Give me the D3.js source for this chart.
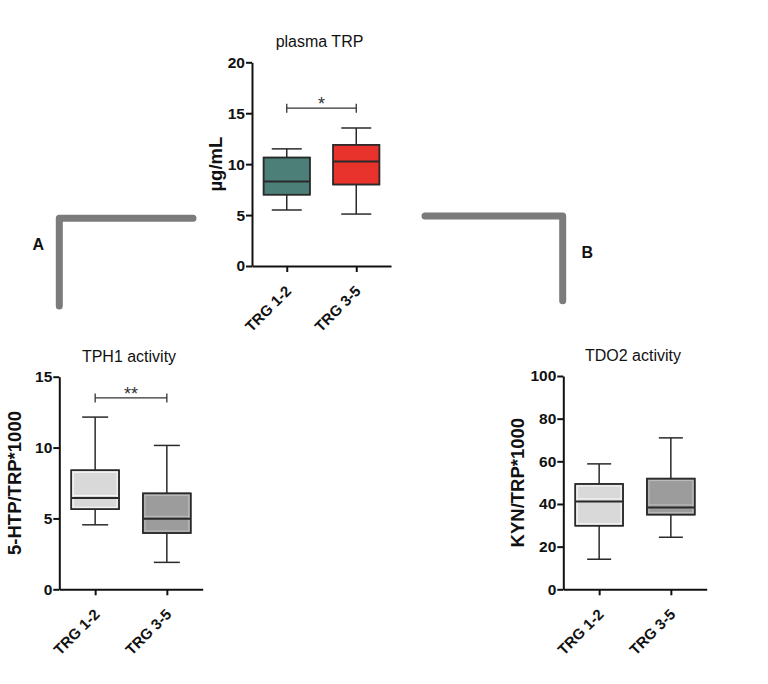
<!DOCTYPE html>
<html>
<head>
<meta charset="utf-8">
<script src="https://cdn.jsdelivr.net/npm/d3@7"></script>
<style>
  body { margin: 0; background: #fff; }
  svg { font-family: "Liberation Sans", Arial, sans-serif; }
</style>
</head>
<body>
<script>
// groups on every x axis
var groups = ["TRG 1-2", "TRG 3-5"];

// box values: [min, q1, median, q3, max]
var trpBoxes = [[5.5, 7.0, 8.3, 10.65, 11.5], [5.1, 8.0, 10.25, 11.9, 13.55]];
var tphBoxes = [[4.55, 5.65, 6.45, 8.4, 12.15], [1.9, 3.97, 4.97, 6.77, 10.15]];
var tdoBoxes = [[14.1, 29.8, 41.2, 49.4, 58.8], [24.4, 35.0, 38.4, 51.9, 71.0]];

var trpTicks = [0, 5, 10, 15, 20];
var tphTicks = [0, 5, 10, 15];
var tdoTicks = [0, 20, 40, 60, 80, 100];

var trpColors = ["#4d7f79", "#e8322c"];
var greyColors = ["#d9d9d9", "#9c9c9c"];

// significance bars: [value, label]
var trpSig = [15.5, "*"];
var tphSig = [13.5, "**"];

var panels = [
  { title: "plasma TRP", ylabel: "\u00b5g/mL", boxes: trpBoxes, ticks: trpTicks, colors: trpColors, sig: trpSig,
    x0: 252, x1: 391, yTop: 62.3, yBot: 266, ylabX: 215, capW: 30, inner: false },
  { title: "TPH1 activity", ylabel: "5-HTP/TRP*1000", boxes: tphBoxes, ticks: tphTicks, colors: greyColors, sig: tphSig,
    x0: 59.3, x1: 202.7, yTop: 376.7, yBot: 589.3, ylabX: 14, capW: 26, inner: true },
  { title: "TDO2 activity", ylabel: "KYN/TRP*1000", boxes: tdoBoxes, ticks: tdoTicks, colors: greyColors, sig: null,
    x0: 563.3, x1: 706.7, yTop: 376, yBot: 589.3, ylabX: 517.5, capW: 24, inner: true }
];

var font = "'Liberation Sans', Arial, sans-serif";

var svg = d3.select("body").append("svg")
    .attr("width", 768)
    .attr("height", 684);

panels.forEach(function(p) {
  var y = d3.scaleLinear()
      .domain([0, d3.max(p.ticks)])
      .range([p.yBot, p.yTop]);
  var x = d3.scalePoint()
      .domain(groups)
      .range([p.x0, p.x1])
      .padding(0.5);
  var bw = (p.x1 - p.x0) / 3;

  var g = svg.append("g");

  // boxes
  p.boxes.forEach(function(b, i) {
    var cx = x(groups[i]);
    var bg = g.append("g").attr("stroke", "#2a2a2a").attr("stroke-width", 1.5);
    bg.append("line")
      .attr("x1", cx).attr("x2", cx)
      .attr("y1", y(b[0])).attr("y2", y(b[4]));
    bg.append("line")
      .attr("x1", cx - p.capW / 2).attr("x2", cx + p.capW / 2)
      .attr("y1", y(b[4])).attr("y2", y(b[4]));
    bg.append("line")
      .attr("x1", cx - p.capW / 2).attr("x2", cx + p.capW / 2)
      .attr("y1", y(b[0])).attr("y2", y(b[0]));
    bg.append("rect")
      .attr("x", cx - bw / 2).attr("width", bw)
      .attr("y", y(b[3])).attr("height", y(b[1]) - y(b[3]))
      .attr("fill", p.colors[i]);
    if (p.inner) {
      var op = i == 0 ? 0.85 : 0.35;
      bg.append("rect")
        .attr("x", cx - bw / 2 + 2).attr("width", bw - 4)
        .attr("y", y(b[3]) + 2).attr("height", y(b[1]) - y(b[3]) - 4)
        .attr("fill", "none")
        .attr("stroke", "#fff").attr("stroke-opacity", op).attr("stroke-width", 1);
      bg.append("line")
        .attr("x1", cx - bw / 2 + 2).attr("x2", cx + bw / 2 - 2)
        .attr("y1", y(b[2]) - 2.5).attr("y2", y(b[2]) - 2.5)
        .attr("stroke", "#fff").attr("stroke-opacity", op).attr("stroke-width", 1);
    }
    bg.append("rect")
      .attr("x", cx - bw / 2).attr("width", bw)
      .attr("y", y(b[3])).attr("height", y(b[1]) - y(b[3]))
      .attr("fill", "none");
    bg.append("line")
      .attr("x1", cx - bw / 2).attr("x2", cx + bw / 2)
      .attr("y1", y(b[2])).attr("y2", y(b[2]))
      .attr("stroke-width", 2);
  });

  // significance bar
  if (p.sig) {
    var sy = y(p.sig[0]);
    var xa = x(groups[0]), xb = x(groups[1]);
    var sg = g.append("g").attr("stroke", "#333").attr("stroke-width", 1.3);
    sg.append("line").attr("x1", xa).attr("x2", xb).attr("y1", sy).attr("y2", sy);
    sg.append("line").attr("x1", xa).attr("x2", xa).attr("y1", sy - 4.5).attr("y2", sy + 4.5);
    sg.append("line").attr("x1", xb).attr("x2", xb).attr("y1", sy - 4.5).attr("y2", sy + 4.5);
    g.append("text")
      .attr("x", (xa + xb) / 2).attr("y", sy + 2)
      .attr("text-anchor", "middle")
      .style("font-family", font)
      .style("font-size", "18px").style("fill", "#333")
      .text(p.sig[1]);
  }

  // y axis
  var ya = g.append("g")
      .attr("transform", "translate(" + p.x0 + ",0)")
      .call(d3.axisLeft(y).tickValues(p.ticks).tickSize(6).tickSizeOuter(0).tickPadding(1));
  ya.select(".domain").attr("stroke-width", 2).attr("stroke", "#111");
  ya.selectAll(".tick line").attr("stroke-width", 2).attr("stroke", "#111");
  ya.selectAll(".tick text")
      .style("font-family", font).style("font-size", "15.5px")
      .style("font-weight", "bold").style("fill", "#111");

  // x axis
  var xa2 = g.append("g")
      .attr("transform", "translate(0," + p.yBot + ")")
      .call(d3.axisBottom(x).tickSize(6).tickSizeOuter(0));
  xa2.select(".domain").attr("stroke-width", 2).attr("stroke", "#111");
  xa2.selectAll(".tick line").attr("stroke-width", 2).attr("stroke", "#111");
  xa2.selectAll(".tick text")
      .attr("text-anchor", "end")
      .attr("x", null).attr("y", null).attr("dy", null)
      .attr("transform", "translate(5,26) rotate(-45)")
      .style("font-family", font).style("font-size", "15px")
      .style("font-weight", "bold").style("fill", "#111");

  // title
  g.append("text")
    .attr("x", (p.x0 + p.x1) / 2 - 2).attr("y", p.yTop - 15)
    .attr("text-anchor", "middle")
    .style("font-family", font)
    .style("font-size", "16px").style("fill", "#111")
    .text(p.title);

  // y label
  g.append("text")
    .attr("transform", "translate(" + (p.ylabX + 6.5) + "," + ((p.yTop + p.yBot) / 2) + ") rotate(-90)")
    .attr("text-anchor", "middle")
    .style("font-family", font)
    .style("font-size", "18.5px").style("font-weight", "bold").style("fill", "#111")
    .text(p.ylabel);
});

// connector elbows and panel letters
var elbowA = [[193, 218.3], [59.3, 218.3], [59.3, 306]];
var elbowB = [[425, 216], [562.7, 216], [562.7, 300.7]];
var line = d3.line();
[elbowA, elbowB].forEach(function(pts) {
  svg.append("path")
    .attr("d", line(pts))
    .attr("fill", "none")
    .attr("stroke", "#7b7b7b")
    .attr("stroke-width", 7)
    .attr("stroke-linecap", "round")
    .attr("stroke-linejoin", "round");
});

var letters = [["A", 38.3, 244.3], ["B", 587.3, 251.7]];
svg.selectAll(".letter")
  .data(letters)
  .enter().append("text")
  .attr("class", "letter")
  .attr("x", function(d) { return d[1]; })
  .attr("y", function(d) { return d[2] + 6; })
  .attr("text-anchor", "middle")
  .style("font-family", font)
  .style("font-size", "16px").style("font-weight", "bold").style("fill", "#111")
  .text(function(d) { return d[0]; });
</script>
</body>
</html>
